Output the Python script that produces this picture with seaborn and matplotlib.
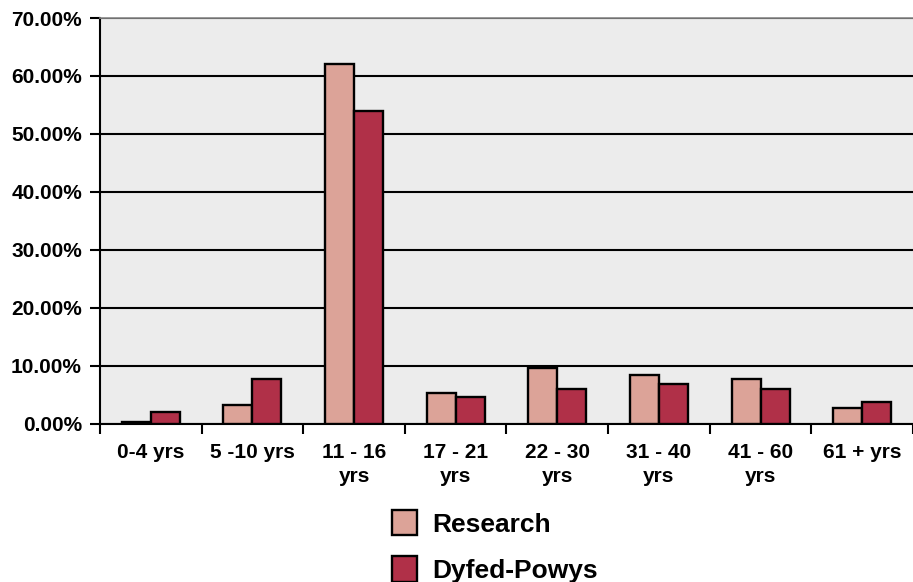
import matplotlib
matplotlib.use("Agg")
import matplotlib.pyplot as plt
from matplotlib.ticker import FuncFormatter, FixedLocator
import pandas as pd
import seaborn as sns

# Age bands and share of each group (percent)
age_bands = ["0-4 yrs", "5 -10 yrs", "11 - 16\nyrs", "17 - 21\nyrs",
             "22 - 30\nyrs", "31 - 40\nyrs", "41 - 60\nyrs", "61 + yrs"]
research = [0.2, 3.2, 62.0, 5.3, 9.6, 8.4, 7.7, 2.6]
dyfed_powys = [2.0, 7.7, 53.9, 4.6, 6.0, 6.9, 6.0, 3.8]
series_names = ["Research", "Dyfed-Powys"]
series_colors = ["#DCA398", "#B03048"]

df = pd.DataFrame({
    "band": age_bands * 2,
    "pct": research + dyfed_powys,
    "series": [series_names[0]] * len(age_bands) + [series_names[1]] * len(age_bands),
})

sns.set_theme(style="white")
plt.rcParams["font.family"] = ["Liberation Sans", "DejaVu Sans"]
plt.rcParams["font.weight"] = "bold"
plt.rcParams["text.color"] = "black"

fig = plt.figure(figsize=(9.13, 5.82), dpi=100)
ax = fig.add_axes([0.1095, 0.2723, 0.8905, 0.6967])
ax.set_facecolor("#ECECEC")

sns.barplot(data=df, x="band", y="pct", hue="series", order=age_bands,
            hue_order=series_names, palette=series_colors, saturation=1,
            width=0.57, edgecolor="black", linewidth=1.7, ax=ax,
            legend=False, zorder=3)

ax.set_ylim(0, 70)
ax.set_xlim(-0.5, len(age_bands) - 0.5)
ax.set_yticks(range(0, 71, 10))
ax.yaxis.set_major_formatter(FuncFormatter(lambda v, _: f"{v:.2f}%"))
ax.yaxis.grid(True, color="black", linewidth=1.5, zorder=1)
ax.set_axisbelow(True)

ax.set_xlabel("")
ax.set_ylabel("")
ax.tick_params(axis="x", which="major", length=0, pad=14, labelsize=15)
ax.xaxis.set_minor_locator(FixedLocator([i - 0.5 for i in range(len(age_bands) + 1)]))
ax.tick_params(axis="x", which="minor", length=7, width=1.5, color="black", bottom=True)
ax.tick_params(axis="y", length=7, width=1.5, color="black", left=True, pad=6, labelsize=15)
for lbl in ax.get_xticklabels():
    lbl.set_fontweight("bold")
    lbl.set_color("black")
    lbl.set_linespacing(1.35)
for lbl in ax.get_yticklabels():
    lbl.set_fontweight("bold")
    lbl.set_color("black")

for side in ("left", "bottom"):
    ax.spines[side].set_color("black")
    ax.spines[side].set_linewidth(1.5)
ax.spines["top"].set_color("#888888")
ax.spines["top"].set_linewidth(1.2)
ax.spines["right"].set_visible(False)

handles = [plt.Rectangle((0, 0), 1, 1, facecolor=c, edgecolor="black", linewidth=1.7)
           for c in series_colors]
leg = fig.legend(handles, series_names, loc="center", bbox_to_anchor=(0.542, 0.061),
                 frameon=False, prop={"weight": "bold", "size": 19},
                 handlelength=0.95, handleheight=1.1, labelspacing=0.75, handletextpad=0.6)
for t in leg.get_texts():
    t.set_color("black")

fig.savefig("out.png", dpi=100)
